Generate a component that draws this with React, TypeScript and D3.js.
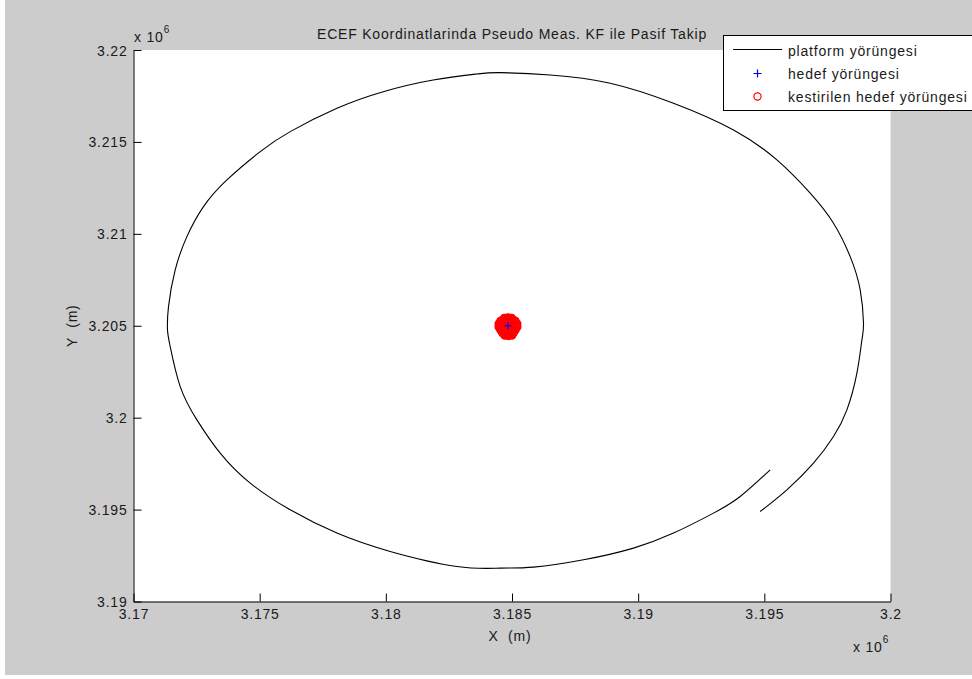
import React, { useEffect, useRef } from "react";
import * as d3 from "d3";

// platform trajectory (m), starting at the outer end of the gap
const platformX = [
  3194836, 3195894, 3196948, 3197741, 3198272, 3198668, 3198867, 3198930, 3198799, 3198403,
  3197741, 3196818, 3195498, 3193778, 3191400, 3188892, 3186514, 3184532, 3183609, 3181877,
  3179896, 3178061, 3176210, 3175021, 3173701, 3172774, 3172116, 3171653, 3171387, 3171347,
  3171454, 3171851, 3172513, 3173436, 3174625, 3176210, 3178061, 3180173, 3182816, 3184532,
  3185852, 3187834, 3189815, 3191400, 3192985, 3194043, 3195232,
];
const platformY = [
  3194894, 3196074, 3197526, 3198973, 3200425, 3202420, 3204231, 3205139, 3206950, 3208761,
  3210577, 3212209, 3214020, 3215651, 3217103, 3218191, 3218642, 3218767, 3218696, 3218370,
  3217734, 3216831, 3215559, 3214471, 3212932, 3211480, 3209849, 3208038, 3206042, 3204775,
  3203867, 3201692, 3199881, 3198070, 3196439, 3194987, 3193720, 3192719, 3191903, 3191816,
  3191871, 3192268, 3192904, 3193720, 3194807, 3195710, 3197162,
];

// target (stationary)
const targetX = [3184840];
const targetY = [3205000];

// estimated target positions (cluster round the target)
const estX = [
  3184700, 3184840, 3184980,
  3184560, 3184700, 3184840, 3184980, 3185120,
  3184490, 3184630, 3184770, 3184910, 3185050, 3185190,
  3184490, 3184630, 3184770, 3184910, 3185050, 3185190,
  3184560, 3184700, 3184840, 3184980, 3185120,
  3184630, 3184770, 3184910, 3185050,
  3184720, 3184860, 3184990,
];
const estY = [
  3205400, 3205430, 3205400,
  3205250, 3205260, 3205260, 3205260, 3205250,
  3205100, 3205100, 3205100, 3205100, 3205100, 3205100,
  3204930, 3204930, 3204930, 3204930, 3204930, 3204930,
  3204770, 3204770, 3204770, 3204770, 3204770,
  3204620, 3204610, 3204610, 3204620,
  3204490, 3204470, 3204490,
];

const xTicks = [3170000, 3175000, 3180000, 3185000, 3190000, 3195000, 3200000];
const yTicks = [3190000, 3195000, 3200000, 3205000, 3210000, 3215000, 3220000];

const legendLabels = ["platform yörüngesi", "hedef yörüngesi", "kestirilen hedef yörüngesi"];
const title = "ECEF Koordinatlarinda Pseudo Meas. KF ile Pasif Takip";

const FONT = "'Liberation Sans', Arial, Helvetica, sans-serif";

export default function App() {
  const xAxisRef = useRef<SVGGElement>(null);
  const yAxisRef = useRef<SVGGElement>(null);

  const width = 972,
    height = 679;
  const left = 133.5,
    right = 890.5,
    top = 50,
    bottom = 601.5;

  const x = d3.scaleLinear().domain([3170000, 3200000]).range([left, right]);
  const y = d3.scaleLinear().domain([3190000, 3220000]).range([bottom, top]);

  const fmt = (d: number) => String(+(d / 1e6).toFixed(3));

  useEffect(() => {
    const xAxis = d3
      .axisBottom(x)
      .tickValues(xTicks)
      .tickSizeInner(-8)
      .tickSizeOuter(0)
      .tickPadding(8)
      .tickFormat((d) => fmt(d as number));
    const yAxis = d3
      .axisLeft(y)
      .tickValues(yTicks)
      .tickSizeInner(-8)
      .tickSizeOuter(0)
      .tickPadding(6)
      .tickFormat((d) => fmt(d as number));

    const gx = d3.select(xAxisRef.current!);
    gx.attr("transform", `translate(0, ${bottom})`).call(xAxis);
    const gy = d3.select(yAxisRef.current!);
    gy.attr("transform", `translate(${left}, 0)`).call(yAxis);

    [gx, gy].forEach((g) => {
      g.attr("font-family", FONT).attr("font-size", 14);
      g.select(".domain").attr("stroke", "#000");
      g.selectAll(".tick line").attr("stroke", "#000");
      g.selectAll(".tick text").attr("fill", "#1a1a1a").style("letter-spacing", "0.8px");
    });
    gx.selectAll(".tick text").attr("dy", "0.71em");
    gy.selectAll(".tick text").attr("dy", "0.36em");
  }, []);

  const line = d3
    .line<number>()
    .x((i) => x(platformX[i]))
    .y((i) => y(platformY[i]))
    .curve(d3.curveNatural);
  const platformPath = line(platformX.map((_, i) => i)) || "";

  const plus = (cx: number, cy: number, s: number) =>
    `M${cx - s},${cy}H${cx + s}M${cx},${cy - s}V${cy + s}`;

  const textStyle = { letterSpacing: "0.8px" };

  return (
    <div style={{ position: "absolute", left: 0, top: 0 }}>
      <svg width={width} height={height} style={{ display: "block" }}>
        <rect x={0} y={0} width={width} height={height} fill="#ffffff" />
        <rect x={5} y={0} width={width - 5} height={675} fill="#cccccc" />
        <rect x={left} y={top} width={right - left} height={bottom - top} fill="#ffffff" />

        <path d={platformPath} fill="none" stroke="#000" strokeWidth={1.1} />

        {estX.map((d, i) => (
          <circle key={i} cx={x(d)} cy={y(estY[i])} r={3.4} fill="none" stroke="#ff0000" strokeWidth={2.6} />
        ))}
        {targetX.map((d, i) => (
          <path key={i} d={plus(x(d), y(targetY[i]), 3.5)} stroke="#0000ff" strokeWidth={1.2} />
        ))}

        <g ref={xAxisRef} />
        <g ref={yAxisRef} />

        {/* exponent labels */}
        <text x={134} y={42} fontFamily={FONT} fontSize={14} fill="#1a1a1a" style={textStyle}>
          x 10
          <tspan dy={-9} fontSize={10}>6</tspan>
        </text>
        <text x={853} y={652} fontFamily={FONT} fontSize={14} fill="#1a1a1a" style={textStyle}>
          x 10
          <tspan dy={-9} fontSize={10}>6</tspan>
        </text>

        {/* title and axis labels */}
        <text x={(left + right) / 2} y={39} textAnchor="middle" fontFamily={FONT} fontSize={14} fill="#1a1a1a" style={textStyle}>
          {title}
        </text>
        <text x={(left + right) / 2 - 2} y={641} textAnchor="middle" fontFamily={FONT} fontSize={14} fill="#1a1a1a" style={{ ...textStyle, whiteSpace: "pre" }}>
          {"X  (m)"}
        </text>
        <text
          transform={`translate(77, ${(top + bottom) / 2}) rotate(-90)`}
          textAnchor="middle"
          fontFamily={FONT}
          fontSize={14}
          fill="#1a1a1a"
          style={{ ...textStyle, whiteSpace: "pre" }}
        >
          {"Y  (m)"}
        </text>

        {/* legend */}
        <g fontFamily={FONT} fontSize={14} fill="#1a1a1a">
          <rect x={723.5} y={35.5} width={260} height={75} fill="#ffffff" stroke="#000" strokeWidth={1} />
          <line x1={733} x2={782} y1={49.5} y2={49.5} stroke="#000" strokeWidth={1.1} />
          <path d={plus(757.5, 73.5, 4)} stroke="#0000ff" strokeWidth={1.2} />
          <circle cx={757.5} cy={96.5} r={3.6} fill="none" stroke="#ff0000" strokeWidth={1.2} />
          {legendLabels.map((t, i) => (
            <text key={t} x={788} y={56 + i * 23} style={textStyle}>
              {t}
            </text>
          ))}
        </g>
      </svg>
    </div>
  );
}
